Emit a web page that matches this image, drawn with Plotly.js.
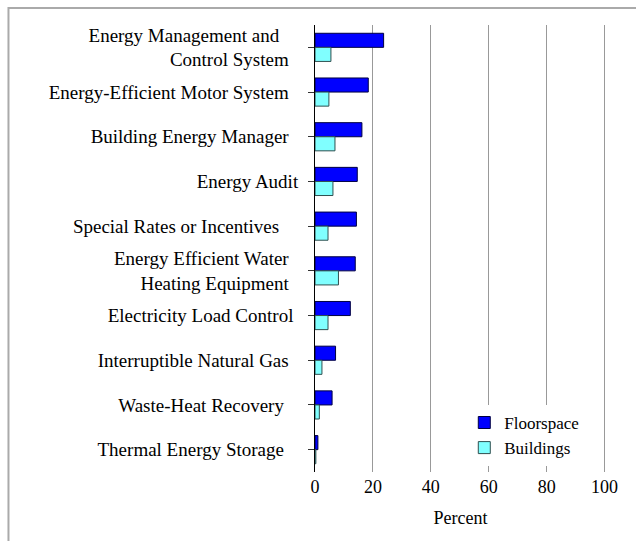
<!DOCTYPE html>
<html>
<head>
<meta charset="utf-8">
<script src="https://cdn.plot.ly/plotly-3.0.1.min.js"></script>
<style>
  html, body { margin: 0; padding: 0; background: #fff; }
  #chart { width: 636px; height: 541px; }
</style>
</head>
<body>
<div id="chart"></div>
<script>
var NB = '\u00a0';
var categories = [
  'Energy Management and' + NB.repeat(4) + '<br>Control System' + NB.repeat(2),
  'Energy-Efficient Motor System' + NB.repeat(2),
  'Building Energy Manager' + NB.repeat(2),
  'Energy Audit',
  'Special Rates or Incentives' + NB.repeat(4),
  'Energy Efficient Water' + NB.repeat(2) + '<br>Heating Equipment' + NB.repeat(2),
  'Electricity Load Control' + NB,
  'Interruptible Natural Gas' + NB.repeat(2),
  'Waste-Heat Recovery' + NB.repeat(3),
  'Thermal Energy Storage' + NB.repeat(3)
];
var floorspace = [23.7, 18.4, 16.2, 14.6, 14.3, 13.9, 12.2, 7.1, 5.9, 1.0];
var buildings  = [5.5, 4.8, 6.9, 6.2, 4.5, 8.1, 4.5, 2.4, 1.5, 0.3];
var xTicks = [0, 20, 40, 60, 80, 100];

var serif = 'Liberation Serif';

var traces = [
  {
    type: 'bar', orientation: 'h', name: 'Floorspace',
    y: categories, x: floorspace,
    marker: { color: '#0000ff', line: { color: '#000040', width: 1 } }
  },
  {
    type: 'bar', orientation: 'h', name: 'Buildings',
    y: categories, x: buildings,
    marker: { color: '#80ffff', line: { color: '#2f4f4f', width: 1 } }
  }
];

// plot area: x from 315px to ~606.5px, y from 25px to 472px
var plotW = 291.45, plotH = 447;
var fx = function (px) { return (px - 315) / plotW; };
var fy = function (py) { return (472 - py) / plotH; };

var layout = {
  width: 636, height: 541,
  margin: { l: 315, r: 29.55, t: 25, b: 69, pad: 0, autoexpand: false },
  paper_bgcolor: '#ffffff', plot_bgcolor: '#ffffff',
  barmode: 'group', bargap: 0.37, bargroupgap: 0,
  font: { family: serif, color: '#000000', size: 17 },
  showlegend: true,
  legend: {
    x: 0.513, y: 0.15, xanchor: 'left', yanchor: 'top',
    bgcolor: '#ffffff', borderwidth: 0, traceorder: 'normal',
    font: { family: serif, size: 17, color: '#000000' }
  },
  xaxis: {
    range: [0, 100.5], tickvals: xTicks, ticktext: xTicks.map(String),
    showgrid: true, gridcolor: '#999999', gridwidth: 1,
    zeroline: false, showline: false, ticks: '',
    ticklabelstandoff: 2, automargin: false,
    tickfont: { family: serif, size: 18, color: '#000000' },
    title: { text: 'Percent', font: { family: serif, size: 18, color: '#000000' }, standoff: 15 }
  },
  yaxis: {
    type: 'category', categoryorder: 'array', categoryarray: categories,
    range: [9.5, -0.5], automargin: false,
    showgrid: false, zeroline: false,
    showline: true, linecolor: '#000000', linewidth: 1,
    ticks: 'outside', ticklen: 6, tickcolor: '#333333', tickwidth: 1,
    ticklabelstandoff: 6,
    tickfont: { family: serif, size: 19, color: '#000000' }
  },
  shapes: [
    { type: 'line', xref: 'paper', yref: 'paper', layer: 'above',
      x0: fx(8), x1: fx(640), y0: fy(8), y1: fy(8),
      line: { color: '#aaaaaa', width: 2 } },
    { type: 'line', xref: 'paper', yref: 'paper', layer: 'above',
      x0: fx(8), x1: fx(8), y0: fy(7), y1: fy(545),
      line: { color: '#aaaaaa', width: 2 } }
  ]
};

Plotly.newPlot('chart', traces, layout, { staticPlot: true, displayModeBar: false });
</script>
</body>
</html>
